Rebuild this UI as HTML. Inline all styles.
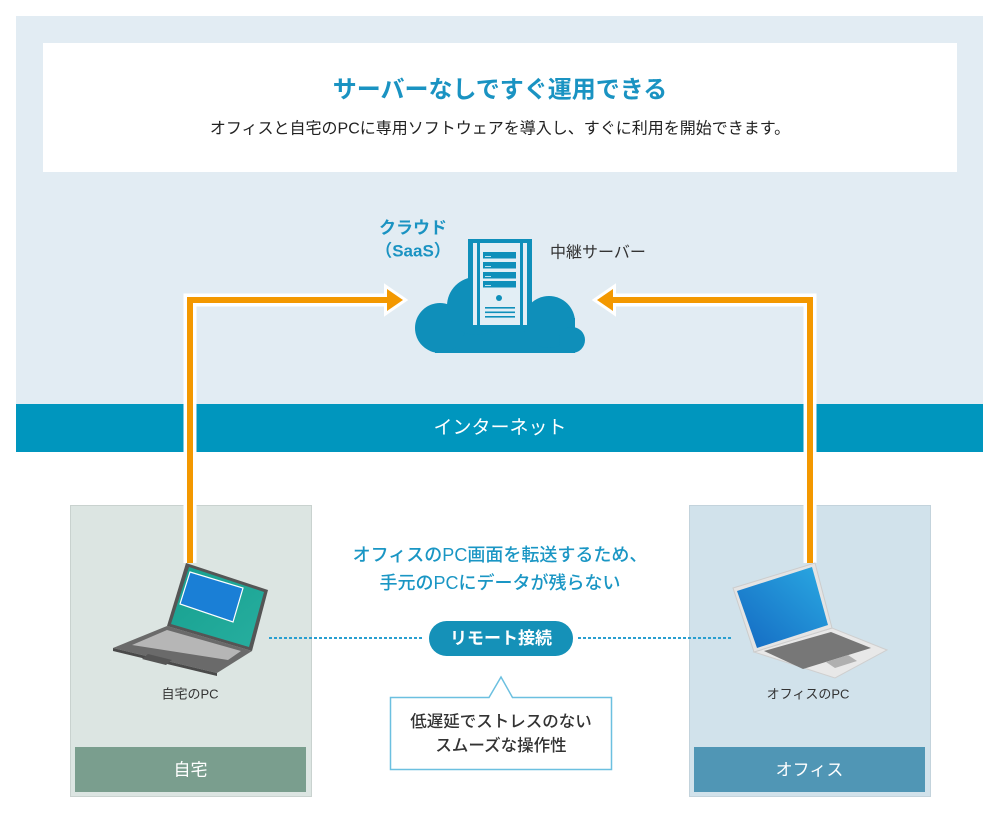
<!DOCTYPE html>
<html>
<head>
<meta charset="utf-8">
<style>
html,body{margin:0;padding:0;background:#fff;}
body{width:1000px;height:814px;overflow:hidden;}
svg{display:block;}
text{font-family:"Liberation Sans","Noto Sans CJK JP",sans-serif;}
</style>
</head>
<body>
<svg width="1000" height="814" viewBox="0 0 1000 814" xmlns="http://www.w3.org/2000/svg">
  <defs>
    <linearGradient id="teal" x1="0" y1="0" x2="1" y2="1">
      <stop offset="0" stop-color="#16a08f"/>
      <stop offset="1" stop-color="#27ae9f"/>
    </linearGradient>
    <linearGradient id="blue" x1="0" y1="1" x2="1" y2="0">
      <stop offset="0" stop-color="#1469c2"/>
      <stop offset="1" stop-color="#2aa9e2"/>
    </linearGradient>
  </defs>

  <!-- top panel -->
  <rect x="16" y="16" width="967" height="388" fill="#e2ecf3"/>
  <rect x="43" y="43" width="914" height="129" fill="#ffffff"/>
  <text x="500" y="90" text-anchor="middle" dominant-baseline="central" font-size="24" font-weight="bold" fill="#1a93c2">サーバーなしですぐ運用できる</text>
  <text x="500" y="129" text-anchor="middle" dominant-baseline="central" font-size="16" fill="#222">オフィスと自宅のPCに専用ソフトウェアを導入し、すぐに利用を開始できます。</text>

  <!-- cloud labels -->
  <text x="413" y="228" text-anchor="middle" dominant-baseline="central" font-size="17" font-weight="bold" fill="#1a93c2">クラウド</text>
  <text x="413" y="251" text-anchor="middle" dominant-baseline="central" font-size="17" font-weight="bold" fill="#1a93c2">（SaaS）</text>
  <text x="550" y="253" dominant-baseline="central" font-size="16" fill="#333">中継サーバー</text>

  <!-- cloud -->
  <g fill="#0f8fba">
    <rect x="435" y="318" width="140" height="35"/>
    <circle cx="440" cy="328" r="25"/>
    <circle cx="476" cy="306" r="29"/>
    <circle cx="549" cy="322" r="26"/>
    <circle cx="572" cy="340" r="13"/>
  </g>
  <!-- server tower -->
  <rect x="468" y="239" width="64" height="86" fill="#0f8fba"/>
  <rect x="473" y="243" width="4" height="82" fill="#e2eef5"/>
  <rect x="480" y="243" width="40" height="82" fill="#e2eef5"/>
  <rect x="523" y="243" width="4" height="82" fill="#e2eef5"/>
  <g fill="#0f8fba">
    <rect x="483" y="252" width="33" height="6.5"/>
    <rect x="483" y="262" width="33" height="6.5"/>
    <rect x="483" y="272" width="33" height="6.5"/>
    <rect x="483" y="281" width="33" height="6.5"/>
    <circle cx="499" cy="298" r="3"/>
    <rect x="485" y="307" width="30" height="1.6"/>
    <rect x="485" y="311.5" width="30" height="1.6"/>
    <rect x="485" y="316" width="30" height="1.6"/>
  </g>
  <g fill="#bfe2f0">
    <rect x="485" y="256" width="6" height="1"/>
    <rect x="485" y="266" width="6" height="1"/>
    <rect x="485" y="276" width="6" height="1"/>
    <rect x="485" y="285" width="6" height="1"/>
  </g>

  <!-- internet bar -->
  <rect x="16" y="404" width="967" height="48" fill="#0096be"/>
  <text x="500" y="428" text-anchor="middle" dominant-baseline="central" font-size="19" fill="#ffffff">インターネット</text>

  <!-- lower boxes -->
  <rect x="70.5" y="505.5" width="241" height="291" fill="#dce5e2" stroke="#c9d2cf" stroke-width="1"/>
  <rect x="75" y="747" width="231" height="45" fill="#7a9e8e"/>
  <text x="190.5" y="770" text-anchor="middle" dominant-baseline="central" font-size="17" fill="#ffffff">自宅</text>

  <rect x="689.5" y="505.5" width="241" height="291" fill="#d1e2eb" stroke="#c3d3dc" stroke-width="1"/>
  <rect x="694" y="747" width="231" height="45" fill="#5096b5"/>
  <text x="809.5" y="770" text-anchor="middle" dominant-baseline="central" font-size="17" fill="#ffffff">オフィス</text>

  <text x="190" y="694" text-anchor="middle" dominant-baseline="central" font-size="13" fill="#333">自宅のPC</text>
  <text x="808" y="694" text-anchor="middle" dominant-baseline="central" font-size="13" fill="#333">オフィスのPC</text>

  <!-- center texts -->
  <text x="500" y="555" text-anchor="middle" dominant-baseline="central" font-size="18" font-weight="500" fill="#1a96c4">オフィスのPC画面を転送するため、</text>
  <text x="500" y="583" text-anchor="middle" dominant-baseline="central" font-size="18" font-weight="500" fill="#1a96c4">手元のPCにデータが残らない</text>

  <!-- dotted connection -->
  <line x1="269" y1="638" x2="424" y2="638" stroke="#2a9fd0" stroke-width="2" stroke-dasharray="3 2"/>
  <line x1="578" y1="638" x2="731" y2="638" stroke="#2a9fd0" stroke-width="2" stroke-dasharray="3 2"/>
  <rect x="429" y="621" width="144" height="35" rx="17.5" fill="#1591b8"/>
  <text x="501" y="638.5" text-anchor="middle" dominant-baseline="central" font-size="17" font-weight="bold" fill="#ffffff">リモート接続</text>

  <!-- callout -->
  <path d="M390.5,697.5 H489 L501,677 L512.5,697.5 H611.5 V769.5 H390.5 Z" fill="#ffffff" stroke="#6cc0e0" stroke-width="1.5"/>
  <text x="501" y="722" text-anchor="middle" dominant-baseline="central" font-size="16.5" font-weight="500" fill="#333">低遅延でストレスのない</text>
  <text x="501" y="746" text-anchor="middle" dominant-baseline="central" font-size="16.5" font-weight="500" fill="#333">スムーズな操作性</text>

  <!-- orange arrows -->
  <g fill="none" stroke-linejoin="miter">
    <path d="M190,563 V300 H392" stroke="#ffffff" stroke-width="13"/>
    <path d="M810,563 V300 H608" stroke="#ffffff" stroke-width="13"/>
  </g>
  <polygon points="403,300 387,289 387,311" fill="#f39800" stroke="#ffffff" stroke-width="6" stroke-linejoin="miter"/>
  <polygon points="597,300 613,289 613,311" fill="#f39800" stroke="#ffffff" stroke-width="6" stroke-linejoin="miter"/>
  <g fill="none" stroke="#f39800" stroke-width="6" stroke-linejoin="miter">
    <path d="M190,563 V300 H392"/>
    <path d="M810,563 V300 H608"/>
  </g>
  <polygon points="403,300 387,289 387,311" fill="#f39800"/>
  <polygon points="597,300 613,289 613,311" fill="#f39800"/>

  <!-- left laptop -->
  <polygon points="167,626 252,651 217,673 113,648" fill="#6a6a6a"/>
  <polygon points="113,648 217,673 217,676 113,651" fill="#4a4a4a"/>
  <polygon points="167,630 241,651 228,660 132,645" fill="#b6b6b6"/>
  <polygon points="148,654 172,660 166,665 142,659" fill="#555"/>
  <polygon points="186,563 268,590 252,651 167,626" fill="#555555"/>
  <polygon points="189,567 264,592 249,647 171,624" fill="url(#teal)"/>
  <polygon points="190,572 243,588 233,622 180,604" fill="#1a7fd6" stroke="#ffffff" stroke-width="1.2"/>

  <!-- right laptop -->
  <polygon points="754,652 832,628 887,650 835,678" fill="#e8e8e8" stroke="#cfcfcf" stroke-width="1"/>
  <polygon points="764,651 831,632 871,648 803,669" fill="#777777"/>
  <polygon points="826,662 848,655 857,661 835,668" fill="#b0b0b0"/>
  <polygon points="733,588 815,563 832,628 754,652" fill="#e4e4e4" stroke="#cccccc" stroke-width="1"/>
  <polygon points="737,591 812,567 828,625 757,648" fill="url(#blue)"/>
</svg>
</body>
</html>
